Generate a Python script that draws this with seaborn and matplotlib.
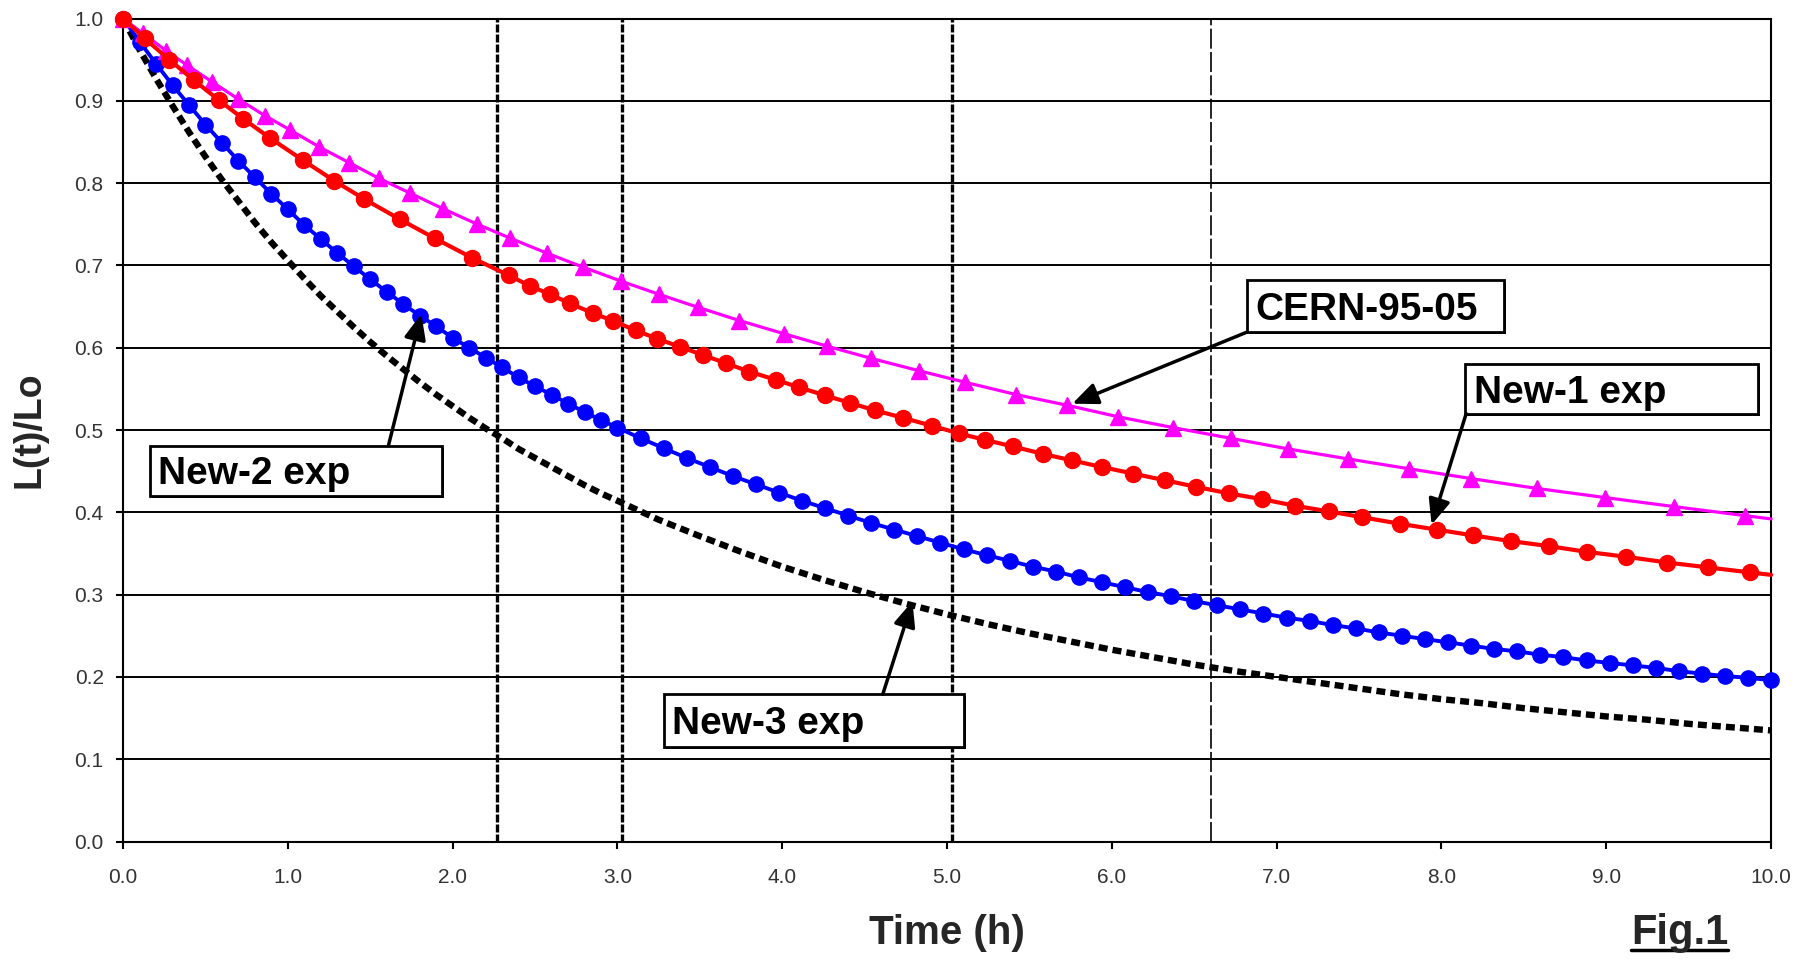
import matplotlib
matplotlib.use("Agg")
import matplotlib.pyplot as plt
import seaborn as sns
from matplotlib.patches import Rectangle
from matplotlib.lines import Line2D

# ---------------- data ----------------
cern_t = [0.0, 0.12, 0.26, 0.39, 0.54, 0.70, 0.86, 1.01, 1.19, 1.37,
          1.55, 1.74, 1.94, 2.15, 2.35, 2.57, 2.79, 3.02, 3.25, 3.49,
          3.74, 4.01, 4.27, 4.54, 4.83, 5.11, 5.42, 5.73, 6.04, 6.37,
          6.72, 7.07, 7.43, 7.80, 8.18, 8.58, 8.99, 9.41, 9.84, 10.0]
cern_l = [1.000, 0.982, 0.961, 0.943, 0.923, 0.902, 0.882, 0.865, 0.844, 0.825,
          0.806, 0.788, 0.769, 0.750, 0.733, 0.715, 0.698, 0.681, 0.665, 0.649,
          0.633, 0.617, 0.602, 0.587, 0.572, 0.558, 0.543, 0.530, 0.516, 0.503,
          0.490, 0.477, 0.465, 0.453, 0.441, 0.429, 0.418, 0.407, 0.396, 0.392]

new1_t = [0.0, 0.13, 0.28, 0.43, 0.58, 0.73, 0.89, 1.09, 1.28, 1.46,
          1.68, 1.89, 2.12, 2.34, 2.47, 2.59, 2.71, 2.85, 2.97, 3.11,
          3.24, 3.38, 3.52, 3.66, 3.80, 3.96, 4.10, 4.26, 4.41, 4.56,
          4.73, 4.91, 5.07, 5.23, 5.40, 5.58, 5.76, 5.94, 6.13, 6.32,
          6.51, 6.71, 6.91, 7.11, 7.32, 7.52, 7.75, 7.97, 8.19, 8.42,
          8.65, 8.88, 9.12, 9.37, 9.62, 9.87, 10.0]
new1_l = [1.000, 0.976, 0.950, 0.925, 0.901, 0.878, 0.855, 0.828, 0.803, 0.781,
          0.756, 0.733, 0.709, 0.688, 0.675, 0.665, 0.654, 0.642, 0.633, 0.621,
          0.611, 0.601, 0.591, 0.581, 0.571, 0.561, 0.552, 0.542, 0.533, 0.524,
          0.515, 0.505, 0.496, 0.488, 0.480, 0.471, 0.463, 0.455, 0.447, 0.439,
          0.431, 0.423, 0.416, 0.408, 0.401, 0.394, 0.386, 0.379, 0.372, 0.365,
          0.359, 0.352, 0.346, 0.339, 0.333, 0.327, 0.324]

new2_t = [0.0, 0.1, 0.2, 0.3, 0.4, 0.5, 0.6, 0.7, 0.8, 0.9,
          1.0, 1.1, 1.2, 1.3, 1.4, 1.5, 1.6, 1.7, 1.8, 1.9,
          2.0, 2.1, 2.2, 2.3, 2.4, 2.5, 2.6, 2.7, 2.8, 2.9, 3.0,
          3.14, 3.28, 3.42, 3.56, 3.70, 3.84, 3.98, 4.12, 4.26, 4.40,
          4.54, 4.68, 4.82, 4.96, 5.10, 5.24, 5.38, 5.52, 5.66, 5.80,
          5.94, 6.08, 6.22, 6.36, 6.50, 6.64, 6.78, 6.92, 7.06, 7.20,
          7.34, 7.48, 7.62, 7.76, 7.90, 8.04, 8.18, 8.32, 8.46, 8.60,
          8.74, 8.88, 9.02, 9.16, 9.30, 9.44, 9.58, 9.72, 9.86, 10.0]
new2_l = [1.000, 0.972, 0.945, 0.919, 0.895, 0.871, 0.849, 0.827, 0.807, 0.787,
          0.768, 0.749, 0.732, 0.715, 0.699, 0.683, 0.668, 0.653, 0.639, 0.626,
          0.612, 0.600, 0.588, 0.576, 0.564, 0.553, 0.543, 0.532, 0.522, 0.512, 0.503,
          0.490, 0.478, 0.466, 0.455, 0.444, 0.434, 0.424, 0.414, 0.405, 0.396,
          0.387, 0.379, 0.371, 0.363, 0.355, 0.348, 0.341, 0.334, 0.328, 0.321,
          0.315, 0.309, 0.303, 0.298, 0.292, 0.287, 0.282, 0.277, 0.272, 0.268,
          0.263, 0.259, 0.254, 0.250, 0.246, 0.242, 0.238, 0.234, 0.231, 0.227,
          0.224, 0.220, 0.217, 0.214, 0.211, 0.207, 0.204, 0.201, 0.199, 0.196]

new3_t = [0.0, 0.1, 0.2, 0.3, 0.4, 0.5, 0.6, 0.7, 0.8, 0.9,
          1.0, 1.1, 1.2, 1.3, 1.4, 1.5, 1.6, 1.7, 1.8, 1.9,
          2.0, 2.1, 2.2, 2.3, 2.4, 2.5, 2.6, 2.7, 2.8, 2.9, 3.0,
          3.25, 3.50, 3.75, 4.00, 4.25, 4.50, 4.75, 5.00, 5.25, 5.50,
          5.75, 6.00, 6.25, 6.50, 6.75, 7.00, 7.25, 7.50, 7.75, 8.00,
          8.25, 8.50, 8.75, 9.00, 9.25, 9.50, 9.75, 10.0]
new3_l = [1.000, 0.962, 0.927, 0.894, 0.862, 0.832, 0.804, 0.778, 0.752, 0.728,
          0.706, 0.684, 0.663, 0.644, 0.625, 0.607, 0.590, 0.574, 0.558, 0.543,
          0.529, 0.515, 0.502, 0.490, 0.477, 0.466, 0.455, 0.444, 0.433, 0.423, 0.414,
          0.391, 0.371, 0.352, 0.334, 0.318, 0.303, 0.289, 0.276, 0.264, 0.253,
          0.243, 0.233, 0.224, 0.215, 0.207, 0.200, 0.193, 0.186, 0.179, 0.173,
          0.168, 0.162, 0.157, 0.152, 0.148, 0.143, 0.139, 0.135]

half_life_t = [2.27, 3.03, 5.03, 6.6]

x_ticks = [0, 1, 2, 3, 4, 5, 6, 7, 8, 9, 10]
y_ticks = [0.0, 0.1, 0.2, 0.3, 0.4, 0.5, 0.6, 0.7, 0.8, 0.9, 1.0]

labels = ["CERN-95-05", "New-1 exp", "New-2 exp", "New-3 exp"]

# ---------------- style ----------------
sns.set_style("ticks")
plt.rcParams['font.family'] = ['Liberation Sans', 'DejaVu Sans']

fig = plt.figure(figsize=(18.10, 9.59), dpi=100)
ax = fig.add_axes([0.0680, 0.1225, 0.9105, 0.8582])

# horizontal grid
ax.set_axisbelow(True)
ax.yaxis.grid(True, color='black', linewidth=1.4)
ax.xaxis.grid(False)

# vertical half-life lines
for i, xv in enumerate(half_life_t):
    if i < 3:
        ax.axvline(xv, color='black', linewidth=2.4, linestyle=(0, (2.4, 0.6)), zorder=2)
    else:
        ax.axvline(xv, color='black', linewidth=1.2, linestyle=(0, (12, 2)), zorder=2)

# curves
sns.lineplot(x=new3_t, y=new3_l, ax=ax, color='black', linewidth=4.6,
             linestyle=(0, (1.4, 0.8)), dash_capstyle='butt',
             errorbar=None, zorder=3, clip_on=False)
sns.lineplot(x=new2_t, y=new2_l, ax=ax, color='#0000FF', linewidth=2.8,
             marker='o', markersize=11, markeredgecolor='#0000FF', markeredgewidth=1,
             errorbar=None, zorder=4, clip_on=False)
sns.lineplot(x=cern_t, y=cern_l, ax=ax, color='#FF00FF', linewidth=2.3,
             marker='^', markersize=11.5, markeredgecolor='#FF00FF', markeredgewidth=1,
             markevery=list(range(len(cern_t) - 1)),
             errorbar=None, zorder=5, clip_on=False)
sns.lineplot(x=new1_t, y=new1_l, ax=ax, color='#FF0000', linewidth=3.0,
             marker='o', markersize=11.5, markeredgecolor='#FF0000', markeredgewidth=1,
             markevery=list(range(len(new1_t) - 1)),
             errorbar=None, zorder=6, clip_on=False)

# axes
ax.set_xlim(0, 10)
ax.set_ylim(0, 1)
ax.set_xticks(x_ticks)
ax.set_xticklabels([f"{v:.1f}" for v in x_ticks])
ax.set_yticks(y_ticks)
ax.set_yticklabels([f"{v:.1f}" for v in y_ticks])
ax.tick_params(axis='both', direction='out', length=5, width=1.5, color='black',
               labelsize=15, labelcolor='#333333')
ax.tick_params(axis='x', pad=14)
ax.tick_params(axis='y', pad=9)
for s in ax.spines.values():
    s.set_visible(True)
    s.set_color('black')
    s.set_linewidth(1.5)
ax.set_xlabel("")
ax.set_ylabel("")

fig.text(29 / 1810, 1 - 430 / 959, "L(t)/Lo", rotation=90, ha='center', va='center',
         fontsize=27, fontweight='bold')
fig.text(947 / 1810, 1 - 933 / 959, "Time (h)", ha='center', va='center',
         fontsize=29, fontweight='bold')
fig.text(1631 / 1810, 1 - 933 / 959, "Fig.1", ha='left', va='center',
         fontsize=30, fontweight='bold')
fig.add_artist(Line2D([1631 / 1810, 1728 / 1810], [1 - 950 / 959] * 2,
                      transform=fig.transFigure, color='black', linewidth=2.5))

# label boxes with arrows
boxes = [
    # (label, x0, x1, y0, y1, text_x, tail, head)
    (labels[0], 6.82, 8.38, 0.619, 0.682, 6.87, (6.82, 0.619), (5.76, 0.532)),
    (labels[1], 8.14, 9.92, 0.520, 0.580, 8.20, (8.15, 0.520), (7.94, 0.385)),
    (labels[2], 0.164, 1.936, 0.420, 0.481, 0.21, (1.61, 0.481), (1.81, 0.641)),
    (labels[3], 3.28, 5.10, 0.115, 0.179, 3.33, (4.61, 0.179), (4.79, 0.292)),
]
for lab, x0, x1, y0, y1, tx, tail, head in boxes:
    ax.add_patch(Rectangle((x0 + 0.012, y0 - 0.0025), x1 - x0, y1 - y0,
                           facecolor='black', edgecolor='black', linewidth=0,
                           zorder=7))
    ax.add_patch(Rectangle((x0, y0), x1 - x0, y1 - y0, facecolor='white',
                           edgecolor='black', linewidth=2.0, zorder=8))
    yc = (y0 + y1) / 2
    ax.text(tx, yc - 0.0167, lab, ha='left', va='baseline', fontsize=28,
            fontweight='bold', color='black', zorder=9)
    ax.annotate("", xy=head, xytext=tail,
                arrowprops=dict(arrowstyle='-|>,head_length=0.7,head_width=0.3',
                                color='black', linewidth=2.5, mutation_scale=22,
                                shrinkA=0, shrinkB=0),
                zorder=9)

fig.savefig("out.png", dpi=100)
